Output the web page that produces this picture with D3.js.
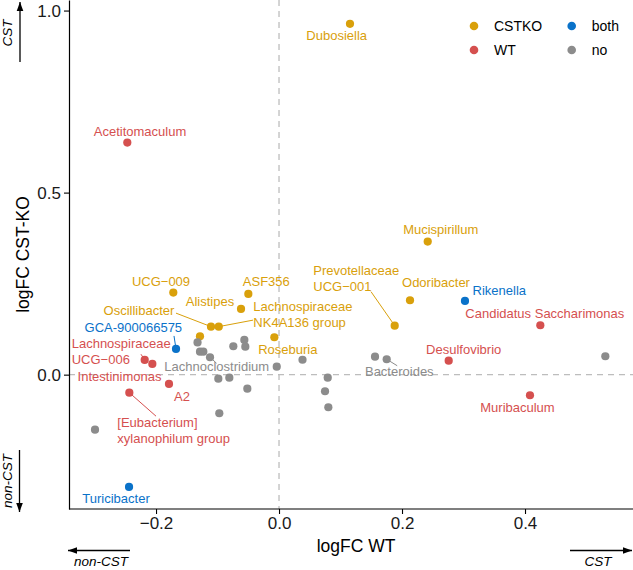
<!DOCTYPE html>
<html><head><meta charset="utf-8">
<script src="https://cdn.jsdelivr.net/npm/d3@7"></script>
<style>body{margin:0;background:#fff} svg{display:block}</style>
</head><body>
<script>
// ---------- data ----------
const genus = [
  "Dubosiella","Acetitomaculum","Mucispirillum","Odoribacter","Rikenella",
  "Prevotellaceae\nUCG\u2212001","Candidatus Saccharimonas","Desulfovibrio","Muribaculum","Bacteroides",
  "Alistipes","Oscillibacter","Lachnospiraceae\nNK4A136 group","ASF356","UCG\u2212009",
  "Roseburia","Lachnoclostridium","GCA-900066575","Lachnospiraceae\nUCG\u2212006","Intestinimonas",
  "A2","[Eubacterium]\nxylanophilum group","Turicibacter",
  "", "", "", "", "", "", "", "", "", "", "", "", "", "", "", "", "", "", ""
];
const logFC_WT = [
  0.1154,-0.2467,0.2418,0.2130,0.3024,
  0.1881,0.4249,0.2759,0.4081,0.1751,
  -0.0618,-0.1106,-0.0980,-0.0499,-0.1719,
  -0.0076,-0.1122,-0.1675,-0.2184,-0.2060,
  -0.1789,-0.2434,-0.2439,
  -0.1285,0.5306,0.1561,0.0792,0.0748,0.0802,0.0382,-0.1325,-0.1285,-0.1231,
  -0.0743,-0.0564,-0.0548,-0.0037,-0.0987,-0.0808,-0.0515,-0.0971,-0.2992
];
const logFC_CSTKO = [
  0.9635,0.6374,0.3654,0.2044,0.2025,
  0.1346,0.1357,0.0385,-0.0566,0.0423,
  0.1805,0.1319,0.1319,0.2217,0.2253,
  0.1027,0.0478,0.0706,0.0404,0.0294,
  -0.0255,-0.0495,-0.3085,
  0.1055,0.0505,0.0495,-0.0082,-0.0456,-0.0896,0.0409,0.0885,0.0632,0.0632,
  0.0780,0.0953,0.0769,0.0220,-0.0110,-0.0082,-0.0385,-0.1060,-0.1511
];
const group = [
  "CSTKO","WT","CSTKO","CSTKO","both",
  "CSTKO","WT","WT","WT","no",
  "CSTKO","CSTKO","CSTKO","CSTKO","CSTKO",
  "CSTKO","no","both","WT","WT",
  "WT","WT","both",
  "CSTKO","no","no","no","no","no","no","no","no","no",
  "no","no","no","no","no","no","no","no","no"
];
const groupLevels = ["CSTKO","WT","both","no"];
const groupColors = ["#D9A00B","#D5504F","#0A72C9","#8C8C8C"];
const xTicks = [-0.2, 0.0, 0.2, 0.4];
const yTicks = [0.0, 0.5, 1.0];

// ---------- label layout (repel result: pixel offsets from point; align; optional segment end) ----------
const labelLayout = {
  "Dubosiella": {dx:-13.3, dy:12, a:"middle"},
  "Acetitomaculum": {dx:12.7, dy:-11, a:"middle"},
  "Mucispirillum": {dx:13, dy:-11.7, a:"middle"},
  "Odoribacter": {dx:26, dy:-17.6, a:"middle"},
  "Rikenella": {dx:34.3, dy:-10.3, a:"middle"},
  "Prevotellaceae\nUCG\u2212001": {dx:-81.4, dy:-55, a:"start", sx:-23.7, sy:-34},
  "Candidatus Saccharimonas": {dx:4.5, dy:-12, a:"middle"},
  "Desulfovibrio": {dx:15, dy:-11.4, a:"middle"},
  "Muribaculum": {dx:-12.5, dy:12, a:"middle"},
  "Bacteroides": {dx:12.6, dy:12.4, a:"middle", sx:10.5, sy:6.5},
  "Alistipes": {dx:-31, dy:-7.3, a:"middle"},
  "Oscillibacter": {dx:-72, dy:-16.2, a:"middle", sx:-35, sy:-13.5},
  "Lachnospiraceae\nNK4A136 group": {dx:34.6, dy:-20, a:"start", sx:34.3, sy:-6.5},
  "ASF356": {dx:18, dy:-12.3, a:"middle"},
  "UCG\u2212009": {dx:-12.3, dy:-11, a:"middle"},
  "Roseburia": {dx:13.5, dy:12, a:"middle"},
  "Lachnoclostridium": {dx:6.7, dy:9.4, a:"middle", sx:6.5, sy:6},
  "GCA-900066575": {dx:-42.7, dy:-21.3, a:"middle", sx:-2, sy:-13},
  "Lachnospiraceae\nUCG\u2212006": {dx:-73, dy:-16.7, a:"start", sx:-3.7, sy:-5.7},
  "Intestinimonas": {dx:-32.8, dy:13, a:"middle"},
  "A2": {dx:13, dy:12.5, a:"middle"},
  "[Eubacterium]\nxylanophilum group": {dx:-12, dy:30, a:"start", sx:26.7, sy:23.5},
  "Turicibacter": {dx:-13, dy:11.3, a:"middle"}
};

// ---------- chart ----------
const W = 633, H = 570;
const margin = {left:69, right:0, top:0, bottom:61};
const font = "'Liberation Sans', Arial, Helvetica, sans-serif";

const svg = d3.select("body").append("svg").attr("width", W).attr("height", H)
  .style("font-family", font);

const x = d3.scaleLinear().domain([-0.3415, 0.5756]).range([margin.left, W - margin.right]);
const y = d3.scaleLinear().domain([-0.369, 1.029]).range([H - margin.bottom, margin.top]);
const color = d3.scaleOrdinal().domain(groupLevels).range(groupColors);

const data = genus.map((g, i) => ({name: g, wt: logFC_WT[i], ko: logFC_CSTKO[i], grp: group[i]}));

// zero reference lines
svg.append("line").attr("x1", x(0)).attr("x2", x(0)).attr("y1", y.range()[1]).attr("y2", y.range()[0])
  .attr("stroke", "#BDBDBD").attr("stroke-width", 1.3).attr("stroke-dasharray", "6,5");
svg.append("line").attr("x1", x.range()[0]).attr("x2", x.range()[1]).attr("y1", y(0)).attr("y2", y(0))
  .attr("stroke", "#BDBDBD").attr("stroke-width", 1.3).attr("stroke-dasharray", "6,5");

// axes
const fmt = d => (d < 0 ? "\u2212" : "") + Math.abs(d).toFixed(1);
const xAxis = svg.append("g").attr("transform", `translate(0,${H - margin.bottom})`)
  .call(d3.axisBottom(x).tickValues(xTicks).tickFormat(fmt).tickSize(5).tickPadding(3).tickSizeOuter(0));
const yAxis = svg.append("g").attr("transform", `translate(${margin.left},0)`)
  .call(d3.axisLeft(y).tickValues(yTicks).tickFormat(fmt).tickSize(5).tickPadding(3).tickSizeOuter(0));
[xAxis, yAxis].forEach(a => {
  a.select(".domain").attr("stroke", "#000").attr("stroke-width", 1.2);
  a.selectAll(".tick line").attr("stroke", "#000").attr("stroke-width", 1.1);
  a.selectAll(".tick text").attr("fill", "#1a1a1a").style("font-size", "17px").style("font-family", font);
});
xAxis.select(".domain").attr("d", `M${x.range()[0]},0H${x.range()[1]}`);

// axis titles
svg.append("text").attr("x", 356).attr("y", 546).attr("text-anchor", "middle").attr("dy", "0.35em")
  .style("font-size", "17.5px").attr("fill", "#000").text("logFC WT");
svg.append("text").attr("transform", `translate(23,${(y.range()[0] + y.range()[1]) / 2}) rotate(-90)`)
  .attr("text-anchor", "middle").attr("dy", "0.35em")
  .style("font-size", "17.5px").attr("fill", "#000").text("logFC CST-KO");

// points
svg.append("g").selectAll("circle").data(data).join("circle")
  .attr("cx", d => x(d.wt)).attr("cy", d => y(d.ko)).attr("r", 4.1)
  .attr("fill", d => color(d.grp));

// label segments
const labelled = data.filter(d => d.name && labelLayout[d.name]);
svg.append("g").selectAll("line").data(labelled.filter(d => labelLayout[d.name].sx !== undefined)).join("line")
  .attr("x1", d => x(d.wt)).attr("y1", d => y(d.ko))
  .attr("x2", d => x(d.wt) + labelLayout[d.name].sx).attr("y2", d => y(d.ko) + labelLayout[d.name].sy)
  .attr("stroke", d => color(d.grp)).attr("stroke-width", 1);

// labels
const lg = svg.append("g");
labelled.forEach(d => {
  const L = labelLayout[d.name];
  const t = lg.append("text")
    .attr("x", x(d.wt) + L.dx).attr("y", y(d.ko) + L.dy)
    .attr("text-anchor", L.a).attr("fill", color(d.grp))
    .style("font-size", "13px");
  d.name.split("\n").forEach((line, i) => {
    t.append("tspan").attr("x", x(d.wt) + L.dx)
      .attr("y", y(d.ko) + L.dy + i * 16).attr("dy", "0.35em").text(line);
  });
});

// legend (2 columns x 2 rows)
const legendCols = [474, 571.7], legendRows = [26, 50];
const leg = svg.append("g");
groupLevels.forEach((g, i) => {
  const cx = legendCols[Math.floor(i / 2)], cy = legendRows[i % 2];
  leg.append("circle").attr("cx", cx).attr("cy", cy).attr("r", 4.3).attr("fill", color(g));
  leg.append("text").attr("x", cx + 20).attr("y", cy).attr("dy", "0.35em")
    .style("font-size", "14px").attr("fill", "#000").text(g);
});

// direction arrows
function arrow(x1, y1, x2, y2) {
  svg.append("line").attr("x1", x1).attr("y1", y1).attr("x2", x2).attr("y2", y2)
    .attr("stroke", "#000").attr("stroke-width", 1.3);
  const ang = Math.atan2(y2 - y1, x2 - x1), len = 9, half = 3.3;
  const bx = x2 - len * Math.cos(ang), by = y2 - len * Math.sin(ang);
  const px = -Math.sin(ang) * half, py = Math.cos(ang) * half;
  svg.append("path").attr("d", `M${x2},${y2}L${bx + px},${by + py}L${bx - px},${by - py}Z`).attr("fill", "#000");
}
arrow(20, 62, 20, 2);
arrow(19.5, 450, 19.5, 512);
arrow(130, 550.5, 68, 550.5);
arrow(570, 550.5, 632, 550.5);

function note(tx, ty, rot, txt) {
  svg.append("text").attr("transform", `translate(${tx},${ty}) rotate(${rot})`)
    .attr("text-anchor", "middle").attr("dy", "0.35em")
    .style("font-size", "13.5px").style("font-style", "italic").attr("fill", "#000").text(txt);
}
note(7, 33, -90, "CST");
note(7, 481, -90, "non-CST");
note(101, 561.5, 0, "non-CST");
note(598, 561.5, 0, "CST");
</script>
</body></html>
